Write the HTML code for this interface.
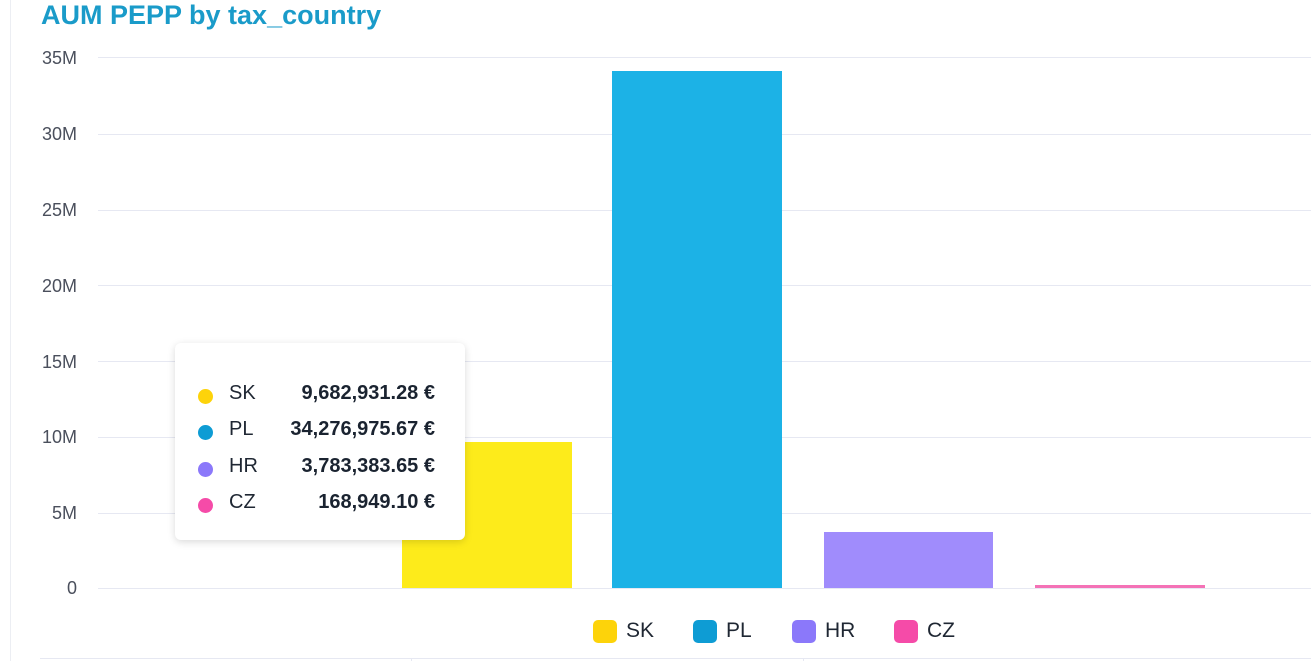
<!DOCTYPE html>
<html><head><meta charset="utf-8"><style>
*{margin:0;padding:0;box-sizing:border-box}
body{width:1311px;height:661px;background:#fff;position:relative;overflow:hidden;font-family:"Liberation Sans",sans-serif}
.a{position:absolute}
.g{position:absolute;left:98px;right:0;height:1px;background:#e6e8f2}
.yl{position:absolute;width:77px;text-align:right;left:0;font-size:18px;color:#4a4f5c}
.bar{position:absolute}
.sw{position:absolute;top:620px;width:24px;height:23px;border-radius:5px}
.lt{position:absolute;top:619px;font-size:21px;color:#1f2733}
.tr{position:absolute;left:0;width:290px;height:30px;font-size:20px;color:#1f2733}
.dot{position:absolute;left:23px;top:9px;width:15px;height:15px;border-radius:50%}
.nm{position:absolute;left:54px;top:2px}
.vl{position:absolute;right:30px;top:2px;font-weight:bold;color:#1a2330}
</style></head><body>
<div class="a" style="left:10px;top:0;width:1px;height:661px;background:#eceef3"></div>
<div class="a" style="left:41px;top:0px;font-size:27px;font-weight:bold;color:#1a9bc9">AUM PEPP by tax_country</div>

<div class="g" style="top:57px"></div><div class="yl" style="top:48px">35M</div>
<div class="g" style="top:134px"></div><div class="yl" style="top:124px">30M</div>
<div class="g" style="top:210px"></div><div class="yl" style="top:200px">25M</div>
<div class="g" style="top:285px"></div><div class="yl" style="top:276px">20M</div>
<div class="g" style="top:361px"></div><div class="yl" style="top:352px">15M</div>
<div class="g" style="top:437px"></div><div class="yl" style="top:427px">10M</div>
<div class="g" style="top:513px"></div><div class="yl" style="top:503px">5M</div>
<div class="g" style="top:588px"></div><div class="yl" style="top:578px">0</div>

<div class="bar" style="left:402px;top:442px;width:170px;height:146px;background:#fdeb1b"></div>
<div class="bar" style="left:612px;top:71px;width:170px;height:517px;background:#1cb2e6"></div>
<div class="bar" style="left:824px;top:532px;width:169px;height:56px;background:#a08cfc"></div>
<div class="bar" style="left:1035px;top:585px;width:170px;height:3px;background:#f472b6"></div>

<div class="sw" style="left:593px;background:#fdd30a"></div><div class="lt" style="left:626px">SK</div>
<div class="sw" style="left:693px;background:#0e9cd4"></div><div class="lt" style="left:726px">PL</div>
<div class="sw" style="left:792px;background:#8b78fa"></div><div class="lt" style="left:825px">HR</div>
<div class="sw" style="left:894px;background:#f54ba8"></div><div class="lt" style="left:927px">CZ</div>

<div class="a" style="left:40px;right:0;top:658px;height:1px;background:#e6e8f2"></div>
<div class="a" style="left:411px;top:658px;width:1px;height:3px;background:#e6e8f2"></div>
<div class="a" style="left:803px;top:658px;width:1px;height:3px;background:#e6e8f2"></div>

<div class="a" style="left:175px;top:343px;width:290px;height:197px;background:#fff;border-radius:6px;box-shadow:0 2px 8px rgba(0,0,0,0.15)">
 <div class="tr" style="top:37px"><div class="dot" style="background:#fdd30a"></div><span class="nm">SK</span><span class="vl">9,682,931.28 €</span></div>
 <div class="tr" style="top:73px"><div class="dot" style="background:#0e9cd4"></div><span class="nm">PL</span><span class="vl">34,276,975.67 €</span></div>
 <div class="tr" style="top:110px"><div class="dot" style="background:#8b78fa"></div><span class="nm">HR</span><span class="vl">3,783,383.65 €</span></div>
 <div class="tr" style="top:146px"><div class="dot" style="background:#f54ba8"></div><span class="nm">CZ</span><span class="vl">168,949.10 €</span></div>
</div>
</body></html>
